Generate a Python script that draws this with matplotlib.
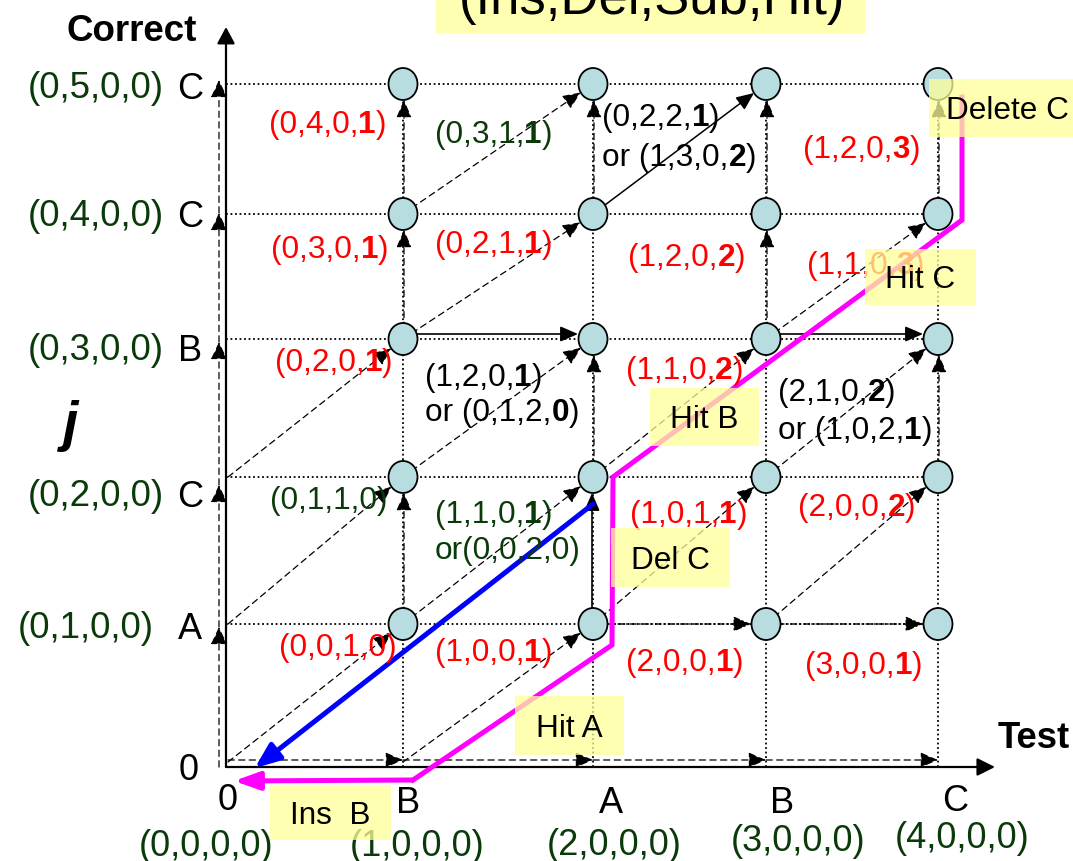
import numpy as np
import matplotlib.pyplot as plt
from matplotlib.patches import Ellipse, Rectangle

plt.rcParams['font.family'] = ['Liberation Sans', 'DejaVu Sans']

# --- data -------------------------------------------------------------
test_seq = ['0', 'B', 'A', 'B', 'C']
correct_seq = ['0', 'A', 'C', 'B', 'C', 'C']
test_cost = ['(0,0,0,0)', '(1,0,0,0)', '(2,0,0,0)', '(3,0,0,0)', '(4,0,0,0)']
correct_cost = ['(0,1,0,0)', '(0,2,0,0)', '(0,3,0,0)', '(0,4,0,0)', '(0,5,0,0)']

# cell labels, *x* = bold part
cell_cost = ['(0,4,0,*1*)', '(0,3,0,*1*)', '(0,2,0,*1*)', '(0,1,1,0)', '(0,0,1,0)',
             '(0,3,1,*1*)', '(0,2,1,*1*)', '(1,2,0,*1*)', 'or (0,1,2,*0*)',
             '(1,1,0,*1*)', 'or(0,0,2,0)', '(1,0,0,*1*)',
             '(0,2,2,*1*)', 'or (1,3,0,*2*)', '(1,2,0,*2*)', '(1,1,0,*2*)',
             '(1,0,1,*1*)', '(2,0,0,*1*)', '(1,2,0,*3*)', '(1,1,0,*3*)',
             '(2,1,0,*2*)', 'or (1,0,2,*1*)', '(2,0,0,*2*)', '(3,0,0,*1*)']
cell_color = ['r', 'r', 'r', 'g', 'r',
              'g', 'r', 'k', 'k',
              'g', 'g', 'r',
              'k', 'k', 'r', 'r',
              'r', 'r', 'r', 'r',
              'k', 'k', 'r', 'r']

# moves between grid nodes (col, row) of the target node
del_moves = [(1, 2), (1, 4), (1, 5), (2, 3), (2, 5), (3, 4), (3, 5), (4, 3), (4, 5)]
del_solid = [(2, 2)]
ins_row1 = [3, 4]
ins_row3 = [2, 4]
sub_moves = [(1, 1), (1, 2), (1, 3), (2, 1), (2, 2), (2, 3), (2, 4), (2, 5),
             (3, 2), (3, 3), (4, 2), (4, 3), (4, 4)]
sub_solid = [(3, 5)]
best_path = [(4, 5), (4, 4), (2, 2), (2, 1), (1, 0), (0, 0)]
alt_path = [(2, 2), (0, 0)]

boxes = ['Delete C', 'Hit C', 'Hit B', 'Del C', 'Hit A', 'Ins  B']

# --- layout (pixels) --------------------------------------------------
col_x = [228, 403, 593, 766, 938]
row_y = [762, 624, 477, 339, 214, 84]
row_lab_y = [767, 625, 493, 347, 213, 85]
col0_tip = [767, 627, 485, 342, 213, 80]
cell_pos = [(269, 122), (271, 247), (275, 360), (270, 498), (279, 645),
            (435, 132), (435, 242), (425, 375), (425, 410),
            (435, 512), (435, 548), (435, 650),
            (602, 115), (602, 155), (628, 255), (626, 368),
            (630, 512), (626, 660), (803, 147), (807, 263),
            (778, 390), (778, 428), (798, 505), (805, 663)]
box_ext = [(929, 1073, 79, 137), (865, 976, 249, 305), (650, 759, 388, 446),
           (611, 730, 528, 587), (515, 624, 696, 755), (270, 391, 785, 840)]
mag_nudge = [(24, 13), (24, 6), (20, 0), (19, 21), (10, 18), (6, 19)]
colors = {'r': '#ff0000', 'g': '#0a3a0a', 'k': 'black'}
PT = 0.72  # points per pixel at dpi 100

fig = plt.figure(figsize=(10.73, 8.61), dpi=100)
ax = fig.add_axes([0, 0, 1, 1])
ax.set_xlim(0, 1073)
ax.set_ylim(861, 0)
ax.axis('off')


def arrow(p0, p1, ls='-', lw=1.0, color='black', hl=15, hw=13, shrink=0, z=2):
    ax.annotate('', xy=p1, xytext=p0, zorder=z,
                arrowprops=dict(arrowstyle='-|>,head_length=%g,head_width=%g' % (hl * PT, hw * PT / 2),
                                lw=lw, ls=ls, color=color, shrinkA=0,
                                shrinkB=shrink * PT, mutation_scale=1))


def put(x, y, s, size, color='black', ha='left', weight='normal', style='normal', z=6):
    base = y + 0.358 * size / PT
    pieces = s.split('*')
    t = ax.text(x, base, pieces[0], fontsize=size, color=color, ha=ha, va='baseline',
                fontweight=weight, fontstyle=style, zorder=z)
    for k, piece in enumerate(pieces[1:], start=1):
        if piece:
            t = ax.annotate(piece, xy=(1, 0), xycoords=t, fontsize=size, color=color,
                            fontweight='bold' if k % 2 else 'normal',
                            ha='left', va='bottom', zorder=z)
    return t


dot = (0, (1, 1.5))
dash = (0, (5, 3.5))

# dotted grid
for j in range(1, 6):
    ax.plot([226, col_x[4]], [row_y[j]] * 2, ls=dot, lw=1.3, color='black', zorder=1)
for i in range(1, 5):
    ax.plot([col_x[i]] * 2, [767, row_y[5]], ls=dot, lw=1.3, color='black', zorder=1)

# axes
arrow((226, 767), (226, 27), lw=1.6, hl=14, hw=15, z=3)
arrow((226, 767), (995, 767), lw=1.6, hl=15, hw=15, z=3)

# first column / first row moves
for j in range(1, 6):
    arrow((219, col0_tip[j - 1]), (219, col0_tip[j]), ls=dash, lw=0.9, hl=15, hw=14)
for i in range(1, 5):
    arrow((col_x[i - 1], 760), (col_x[i], 760), ls=dash, lw=0.9, hl=15, hw=13)

# deletions (vertical)
for (i, j) in del_moves:
    arrow((col_x[i] + 1, row_y[j - 1]), (col_x[i] + 1, row_y[j]), ls=dash, lw=0.9, shrink=16)
for (i, j) in del_solid:
    arrow((col_x[i] - 1, row_y[j - 1]), (col_x[i] - 1, row_y[j]), lw=1.2, shrink=16)

# insertions (horizontal)
for i in ins_row1:
    arrow((col_x[i - 1], row_y[1]), (col_x[i], row_y[1]), ls=(0, (4, 2, 1, 2)), lw=1.0, shrink=15)
for i in ins_row3:
    arrow((col_x[i - 1], row_y[3] - 5), (col_x[i], row_y[3] - 5), lw=1.2, shrink=15)

# substitutions / hits (diagonal)
for (i, j) in sub_moves:
    arrow((col_x[i - 1], row_y[j - 1]), (col_x[i], row_y[j]), ls=dash, lw=0.9, shrink=15)
for (i, j) in sub_solid:
    arrow((col_x[i - 1], row_y[j - 1]), (col_x[i], row_y[j]), lw=1.1, shrink=15)

# nodes
for i in range(1, 5):
    for j in range(1, 6):
        ax.add_patch(Ellipse((col_x[i], row_y[j]), 29, 32, facecolor='#b7dde1',
                             edgecolor='black', lw=1.3, zorder=4))

# alternative back trace (blue)
a0, a1 = alt_path
arrow((col_x[a0[0]], row_y[a0[1]] + 27), (col_x[a1[0]], row_y[a1[1]] + 27),
      lw=3.6, color='#0000ff', hl=21, hw=17, shrink=34, z=5)

# best back trace (magenta)
mx = [col_x[c] + dx for (c, r), (dx, dy) in zip(best_path, mag_nudge)]
my = [row_y[r] + dy for (c, r), (dx, dy) in zip(best_path, mag_nudge)]
ax.plot(mx[:-1], my[:-1], color='#ff00ff', lw=3.6, zorder=5, solid_joinstyle='miter')
arrow((mx[-2], my[-2]), (mx[-1], my[-1]), lw=3.6, color='#ff00ff', hl=21, hw=15, z=5)

# axis texts
put(67, 28, 'Correct', 26.5, weight='bold')
put(998, 735, 'Test', 26.3, weight='bold')
put(71, 420, 'j', 40, ha='center', weight='bold', style='italic')
for j in range(1, 6):
    put(164 if j > 1 else 154, row_lab_y[j], correct_cost[j - 1], 26.5, colors['g'], ha='right')
    put(190, row_lab_y[j] + 1, correct_seq[j], 26, ha='center')
put(189, row_lab_y[0], correct_seq[0], 26, ha='center')
bx = [139, 350, 547, 731, 895]
by = [843, 843, 842, 838, 835]
lx = [228, 408, 611, 782, 955]
ly = [797, 800, 800, 800, 798]
for i in range(5):
    put(lx[i], ly[i], test_seq[i], 26, ha='center')
    put(bx[i], by[i], test_cost[i], 26, colors['g'])

# cell labels
for s, c, (x, y) in zip(cell_cost, cell_color, cell_pos):
    put(x, y, s, 22.7, colors[c])

# highlight boxes
for s, (x0, x1, y0, y1) in zip(boxes, box_ext):
    ax.add_patch(Rectangle((x0, y0), x1 - x0, y1 - y0, facecolor='#ffff99', alpha=0.75,
                           edgecolor='none', zorder=7))
    put((x0 + x1) / 2 + (6 if s == 'Delete C' else 0), (y0 + y1) / 2, s, 22.7, ha='center', z=8)

# title strip (cut at top)
ax.add_patch(Rectangle((436, -5), 429, 38, facecolor='#ffff99', alpha=0.75,
                       edgecolor='none', zorder=7))
ax.text(652, 14, '(Ins,Del,Sub,Hit)', fontsize=38, ha='center', va='baseline', zorder=8)

fig.savefig('out.png', dpi=100)
